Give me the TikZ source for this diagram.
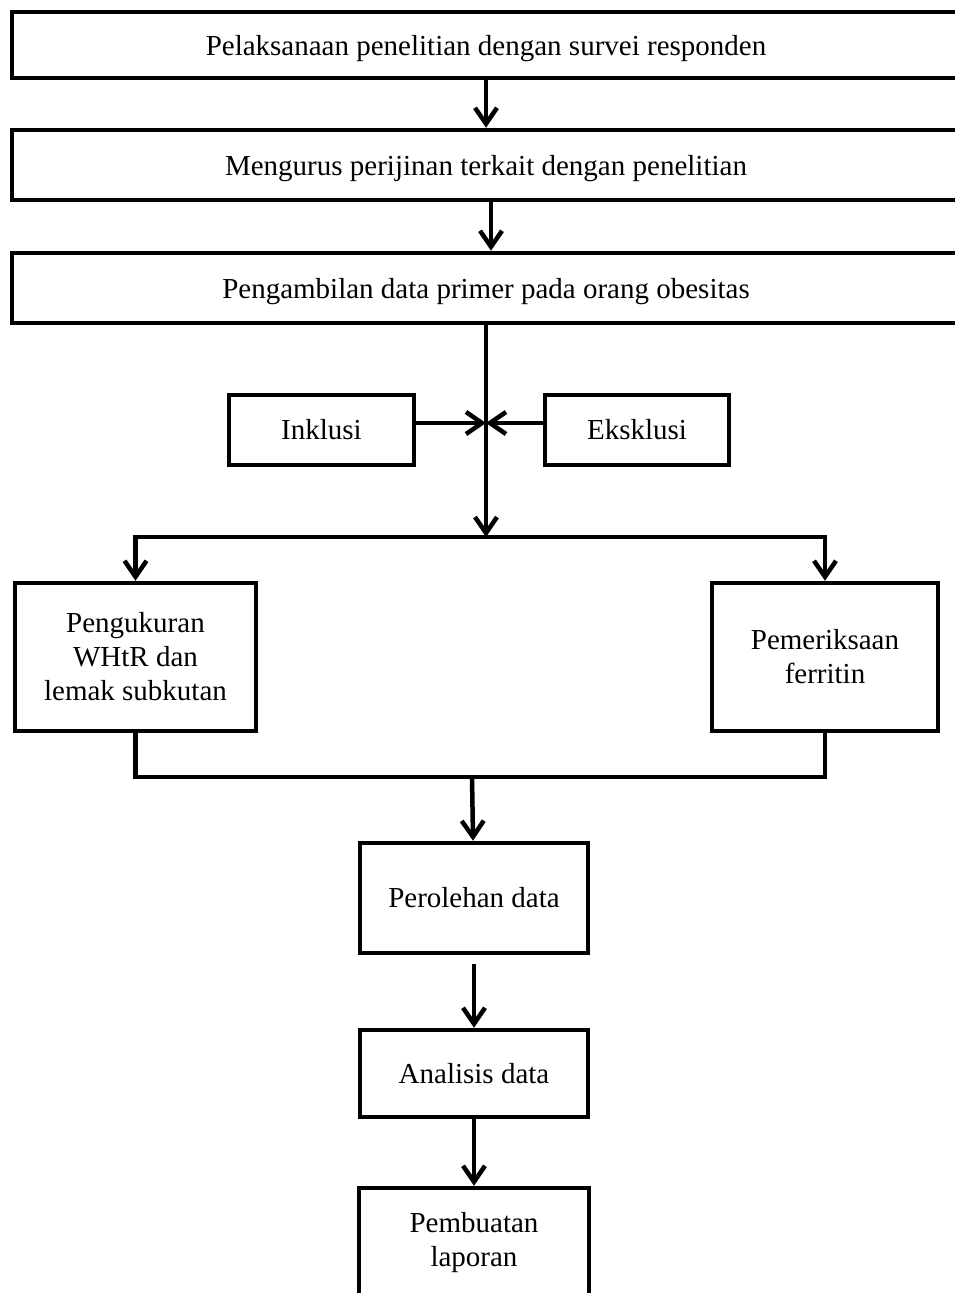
\documentclass[tikz,border=0pt]{standalone}
\usepackage{fontspec}
\setmainfont{Liberation Serif}
\usepackage{tikz}
\usetikzlibrary{arrows.meta, positioning, calc}

\begin{document}
\begin{tikzpicture}[
    x=1pt, y=-1pt,
    box/.style={rectangle, draw, line width=4.5pt, fill=white, align=center, inner sep=0pt, font=\fontsize{29}{34}\selectfont},
    wide/.style={box, minimum width=948pt, text depth=0pt},
    line/.style={line width=4.5pt},
    arrow/.style={line width=4.5pt, -{Straight Barb[length=16pt, width=22pt, line width=4.5pt]}}
]
\useasboundingbox (0,0) rectangle (955,1293);
\clip (0,0) rectangle (955,1293);

\node[wide, minimum height=66pt] (survei) at (486,45) {Pelaksanaan penelitian dengan survei responden};
\node[wide, minimum height=70pt] (izin) at (486,165) {Mengurus perijinan terkait dengan penelitian};
\node[wide, minimum height=70pt] (primer) at (486,288) {Pengambilan data primer pada orang obesitas};
\node[box, minimum width=185pt, minimum height=70pt] (inklusi) at (321.5,430) {Inklusi};
\node[box, minimum width=184pt, minimum height=70pt] (eksklusi) at (637,430) {Eksklusi};
\node[box, minimum width=241pt, minimum height=148pt] (ukur) at (135.5,657) {Pengukuran\\WHtR dan\\lemak subkutan};
\node[box, minimum width=226pt, minimum height=148pt] (ferritin) at (825,657) {Pemeriksaan\\ferritin};
\node[box, minimum width=228pt, minimum height=110pt] (perolehan) at (474,898) {Perolehan data};
\node[box, minimum width=228pt, minimum height=87pt] (analisis) at (474,1073.5) {Analisis data};
\node[box, minimum width=230pt, minimum height=110pt] (laporan) at (474,1243) {Pembuatan\\laporan};

\coordinate (meet) at (486,423);
\coordinate (split) at (486,537);
\coordinate (join) at (472,777);

\draw[arrow] (survei) -- (izin);
\draw[arrow] ([xshift=5pt]izin.south) -- ([xshift=5pt]primer.north);
\draw[arrow] (primer) -- (split);
\draw[arrow] (inklusi.east |- meet) -- (meet);
\draw[arrow] (eksklusi.west |- meet) -- (meet);
\draw[arrow] (split) -| (ukur.north);
\draw[arrow] (split) -| (ferritin.north);
\draw[line] (ukur.south) |- (join) -| (ferritin.south);
\draw[arrow] (join) -- (perolehan);
\draw[arrow, shorten <=9pt] (perolehan) -- (analisis);
\draw[arrow] (analisis) -- (laporan);
\end{tikzpicture}
\end{document}
